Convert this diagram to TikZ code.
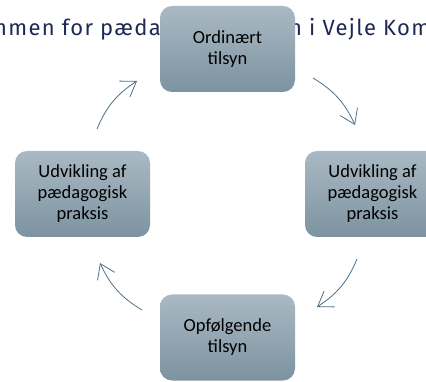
\documentclass[tikz,border=0pt]{standalone}
\usepackage{fontspec}
\setmainfont{Carlito}
\newfontfamily\titlefont[LetterSpace=6]{Fira Sans}
\usepackage{tikz}
\usetikzlibrary{shapes}
\usetikzlibrary{arrows.meta}
\usetikzlibrary{positioning}
\definecolor{boxtop}{RGB}{170,185,195}
\definecolor{boxbot}{RGB}{124,147,161}
\definecolor{arrowcol}{RGB}{76,112,136}
\definecolor{titlecol}{RGB}{30,40,86}

\begin{document}
\begin{tikzpicture}[x=1pt, y=-1pt,
  every node/.style={inner sep=0pt},
  box/.style={rounded corners=12pt, minimum width=135pt, minimum height=86pt, top color=boxtop, bottom color=boxbot, align=center, font=\fontsize{18.5}{21}\selectfont},
  cyc/.style={draw=arrowcol, line width=0.8pt, -{Straight Barb[length=14pt,width=19pt]}, bend left=17}]
\useasboundingbox (0,0) rectangle (426,382);

% title behind the cycle
\node[anchor=base east, text=titlecol, font=\titlefont\fontsize{22}{26}\selectfont] (G0T0) at (161,36) {mmen for pæda};
\node[anchor=base west, text=titlecol, font=\titlefont\fontsize{22}{26}\selectfont] (G0T1) at (289,36) {n i Vejle Kom};

\node[box] (G1N0) at (227.5,49) {Ordinært\\tilsyn};
\node[box] (G1N1) at (372.5,194) {Udvikling af\\pædagogisk\\praksis};
\node[box] (G1N2) at (227.5,337.5) {Opfølgende\\tilsyn};
\node[box] (G1N3) at (82.5,194) {Udvikling af\\pædagogisk\\praksis};

\coordinate (G1A0) at (313,78);
\coordinate (G1B0) at (355,125);
\coordinate (G1A1) at (357,259);
\coordinate (G1B1) at (317,307);
\coordinate (G1A2) at (142,310);
\coordinate (G1B2) at (100,263);
\coordinate (G1A3) at (97,129);
\coordinate (G1B3) at (137,81);

\draw[cyc] (G1A0) to (G1B0);
\draw[cyc] (G1A1) to (G1B1);
\draw[cyc] (G1A2) to (G1B2);
\draw[cyc] (G1A3) to (G1B3);
\end{tikzpicture}
\end{document}
